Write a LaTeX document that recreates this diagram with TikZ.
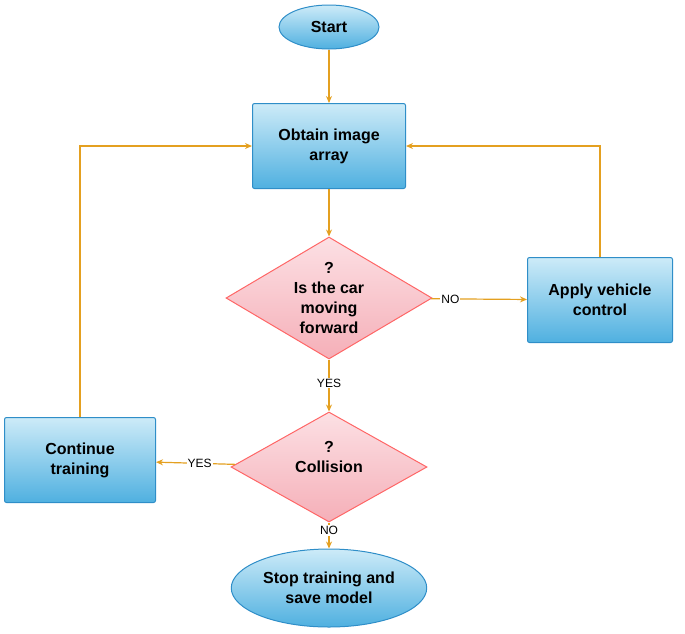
\documentclass[tikz,border=0pt]{standalone}
\usepackage{fontspec}
\setmainfont{Liberation Sans}
\usetikzlibrary{shapes.geometric,arrows.meta}
\definecolor{ln}{HTML}{E4A020}
\definecolor{bt}{HTML}{CDEBF8}
\definecolor{bb}{HTML}{4FB0E0}
\definecolor{bd}{HTML}{2F8EC8}
\definecolor{pt}{HTML}{FCE0E4}
\definecolor{pb}{HTML}{F5AFB8}
\begin{document}
\begin{tikzpicture}[x=1pt,y=-1pt,
 box/.style={draw=bd,line width=1pt,rounded corners=2pt,top color=bt,bottom color=bb,minimum width=153pt,minimum height=85pt,align=center,font=\bfseries\fontsize{16}{20}\selectfont},
 dia/.style={diamond,draw=red!60,line width=1pt,top color=pt,bottom color=pb,aspect=1.7,inner sep=0pt,align=center,font=\bfseries\fontsize{16}{20}\selectfont},
 ell/.style={ellipse,draw=bd,line width=1pt,top color=bt,bottom color=bb,align=center,font=\bfseries\fontsize{16}{20}\selectfont},
 con/.style={draw=ln,line width=1.2pt,-{Stealth[length=7pt,width=6pt]}},
 lab/.style={fill=white,inner sep=1pt,font=\fontsize{12}{14}\selectfont}]
\useasboundingbox (0,0) rectangle (685,633);
\node[ell,minimum width=100pt,minimum height=44pt] (start) at (329,27) {Start};
\node[box] (obt) at (329,146) {Obtain image\\array};
\node[dia,minimum width=206pt,minimum height=122pt] (d1) at (329,298) {?\\Is the car\\moving\\forward};
\node[box,minimum width=145pt] (app) at (600,300) {Apply vehicle\\control};
\node[dia,minimum width=196pt,minimum height=110pt] (d2) at (329,467) {};
\node[font=\bfseries\fontsize{16}{20}\selectfont,align=center] (d2t) at (329,457) {?\\Collision};
\node[box,minimum width=151pt] (cont) at (80,460) {Continue\\training};
\node[ell,minimum width=190pt,minimum height=78pt] (stop) at (329,588) {Stop training and\\save model};
\draw[con] (start) -- (obt);
\draw[con] (obt) -- (d1);
\draw[con] (d1) -- node[lab,pos=0.2]{NO} (app);
\draw[con] (app.north) |- (obt.east);
\draw[con] (d1) -- node[lab,pos=0.45]{YES} (d2);
\draw[con] (d2) -- node[lab,pos=0.45]{YES} (cont);
\draw[con] (cont.north) |- (obt.west);
\draw[con] (d2) -- node[lab,pos=0.3]{NO} (stop);
\end{tikzpicture}
\end{document}
